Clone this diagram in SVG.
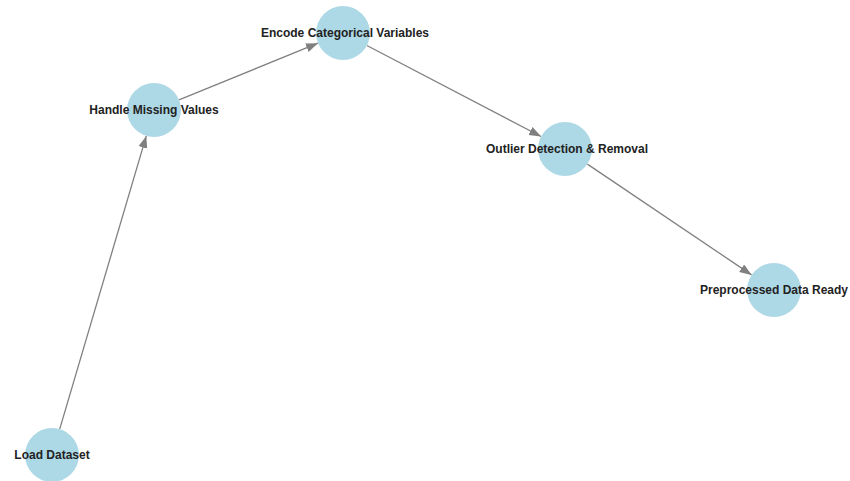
<svg xmlns="http://www.w3.org/2000/svg" width="850" height="481" viewBox="0 0 850 481">
<defs>
<style>
.node{fill:#ADD8E6;}
.lbl{font-family:"Liberation Sans",Arial,sans-serif;font-weight:bold;font-size:12px;fill:#222;text-anchor:middle;dominant-baseline:central;}
.edge{stroke:#808080;stroke-width:1.3;fill:none;marker-end:url(#arr);}
</style>
<marker id="arr" markerUnits="userSpaceOnUse" markerWidth="12" markerHeight="10" refX="12" refY="4.5" orient="auto">
<path d="M0,0 L12,4.5 L0,9 z" fill="#808080"/>
</marker>
</defs>
<rect width="850" height="481" fill="#ffffff"/>
<g id="connectors">
<line class="edge" x1="59.7" y1="429.1" x2="146.3" y2="135.9"/>
<line class="edge" x1="179" y1="99.8" x2="318" y2="43.2"/>
<line class="edge" x1="366.9" y1="45.5" x2="541.1" y2="136.5"/>
<line class="edge" x1="587.4" y1="164.1" x2="751.6" y2="274.9"/>
</g>
<g id="load-dataset">
<circle class="node" cx="52" cy="455" r="27"/>
<text class="lbl" x="52" y="455">Load Dataset</text>
</g>
<g id="handle-missing-values">
<circle class="node" cx="154" cy="110" r="27"/>
<text class="lbl" x="154" y="110">Handle Missing Values</text>
</g>
<g id="encode-categorical-variables">
<circle class="node" cx="343" cy="33" r="27"/>
<text class="lbl" x="345" y="33">Encode Categorical Variables</text>
</g>
<g id="outlier-detection">
<circle class="node" cx="565" cy="149" r="27"/>
<text class="lbl" x="567" y="149">Outlier Detection &amp; Removal</text>
</g>
<g id="preprocessed-data-ready">
<circle class="node" cx="774" cy="290" r="27"/>
<text class="lbl" x="774" y="290">Preprocessed Data Ready</text>
</g>
</svg>
